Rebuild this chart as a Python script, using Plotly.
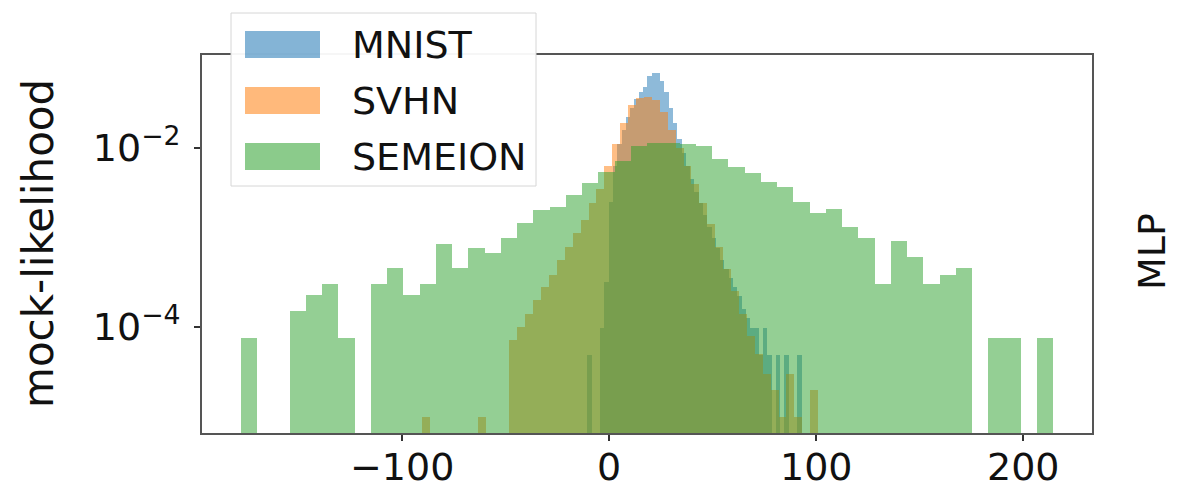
import numpy as np
import plotly.graph_objects as go

# ---- data (histogram densities) ----
mnist_edges = np.linspace(-10.5, 93.0, 51)
mnist_density = [4.9e-5, None, None, 9.8e-5, 3.2e-4, 2.5e-3, 6.3e-3, 1.12e-2, 1.58e-2, 2.2e-2,
                 2.8e-2, 3.5e-2, 4.2e-2, 4.8e-2, 6.3e-2, 6.9e-2, 6.9e-2, 5.6e-2, 4.2e-2, 2.8e-2,
                 1.9e-2, 1.26e-2, 8.9e-3, 6.3e-3, 4.5e-3, 3.2e-3, 2.4e-3, 1.8e-3, 1.3e-3, 1.0e-3,
                 7.6e-4, 5.6e-4, 4.5e-4, 3.5e-4, 2.8e-4, 2.2e-4, 1.6e-4, 1.26e-4, 9.8e-5, 9.8e-5,
                 4.9e-5, 9.8e-5, 4.9e-5, None, 4.9e-5, None, 4.9e-5, None, None, 4.9e-5]

svhn_edges = np.linspace(-90.2, 101.0, 51)
svhn_density = [1.0e-5, None, None, None, None, None, None, 1.0e-5, None, None,
                None, 7.2e-5, 1.0e-4, 1.4e-4, 2.0e-4, 2.8e-4, 3.8e-4, 5.6e-4, 7.9e-4, 1.12e-3,
                1.58e-3, 2.4e-3, 3.5e-3, 6.3e-3, 1.12e-2, 1.9e-2, 3.0e-2, 3.6e-2, 3.7e-2, 3.4e-2,
                2.5e-2, 1.58e-2, 1.0e-2, 6.3e-3, 4.0e-3, 2.4e-3, 1.4e-3, 7.9e-4, 4.5e-4, 2.5e-4,
                1.4e-4, 7.9e-5, 5.0e-5, 3.0e-5, 2.0e-5, 1.0e-5, 3.0e-5, 1.0e-5, None, 2.0e-5]

semeion_edges = np.linspace(-177.8, 214.7, 51)
semeion_density = [7.6e-5, None, None, 1.5e-4, 2.3e-4, 3.0e-4, 7.6e-5, None, 3.0e-4, 4.6e-4,
                   2.3e-4, 3.0e-4, 8.4e-4, 4.6e-4, 7.6e-4, 6.8e-4, 9.9e-4, 1.44e-3, 2.05e-3, 2.2e-3,
                   3.0e-3, 4.1e-3, 5.4e-3, 7.1e-3, 1.06e-2, 1.14e-2, 1.14e-2, 1.1e-2, 1.06e-2, 7.6e-3,
                   6.2e-3, 5.2e-3, 4.2e-3, 3.65e-3, 2.5e-3, 1.9e-3, 2.1e-3, 1.3e-3, 9.9e-4, 3.0e-4,
                   9.1e-4, 6.1e-4, 3.0e-4, 3.8e-4, 4.6e-4, None, 7.6e-5, 7.6e-5, None, 7.6e-5]

series_names = ["MNIST", "SVHN", "SEMEION"]
series_colors = ["#1f77b4", "#ff7f0e", "#2ca02c"]
legend_colors = ["rgba(31,119,180,0.55)", "rgba(255,127,14,0.55)", "rgba(44,160,44,0.55)"]

x_tickvals = [-100, 0, 100, 200]
x_ticktext = ["\u2212100", "0", "100", "200"]
y_tickvals = [1e-2, 1e-4]
y_ticktext = ["10<sup>\u22122</sup>", "10<sup>\u22124</sup>"]

FONT = "DejaVu Sans"
FS = 38

fig = go.Figure()
for name, color, edges, dens in zip(series_names, series_colors,
                                    [mnist_edges, svhn_edges, semeion_edges],
                                    [mnist_density, svhn_density, semeion_density]):
    centers = (edges[:-1] + edges[1:]) / 2
    widths = np.diff(edges)
    fig.add_trace(go.Bar(x=centers, y=dens, width=widths, name=name,
                         marker=dict(color=color, line=dict(width=0)),
                         opacity=0.5, showlegend=False))

W, H = 1184, 494
L, R, T, B = 202, 92, 55, 61
pw, ph = W - L - R, H - T - B

def px(xp):
    return (xp - L) / pw

def py(yp):
    return (H - B - yp) / ph

shapes = []
annotations = []
# legend box
shapes.append(dict(type="rect", xref="paper", yref="paper", x0=px(231), x1=px(536),
                   y0=py(186), y1=py(13), fillcolor="rgba(255,255,255,0.95)",
                   line=dict(color="#d6d6d6", width=1), layer="above"))
row_tops = [31, 87, 143]
for name, lc, rt in zip(series_names, legend_colors, row_tops):
    shapes.append(dict(type="rect", xref="paper", yref="paper", x0=px(245), x1=px(320),
                       y0=py(rt + 27), y1=py(rt), fillcolor=lc, line=dict(width=0),
                       layer="above"))
    annotations.append(dict(text=name, xref="paper", yref="paper", x=px(350), y=py(rt + 14),
                            xanchor="left", yanchor="middle", showarrow=False,
                            font=dict(family=FONT, size=FS, color="#111")))

# x tick labels (placed just below the axis ticks)
for tv, tt in zip(x_tickvals, x_ticktext):
    annotations.append(dict(text=tt, xref="x", yref="paper", x=tv, y=py(467),
                            xanchor="center", yanchor="middle", showarrow=False,
                            font=dict(family=FONT, size=FS, color="#111")))

annotations.append(dict(text="mock-likelihood", xref="paper", yref="paper", x=px(38), y=0.5,
                        textangle=-90, xanchor="center", yanchor="middle", showarrow=False,
                        font=dict(family=FONT, size=42, color="#111")))
annotations.append(dict(text="MLP", xref="paper", yref="paper", x=px(1152), y=py(252),
                        textangle=-90, xanchor="center", yanchor="middle", showarrow=False,
                        font=dict(family=FONT, size=FS, color="#111")))

fig.update_layout(
    width=W, height=H, margin=dict(l=L, r=R, t=T, b=B, autoexpand=False),
    barmode="overlay", bargap=0, plot_bgcolor="white", paper_bgcolor="white",
    shapes=shapes, annotations=annotations,
    font=dict(family=FONT, size=FS, color="#111"),
)
fig.update_xaxes(range=[-196.6, 233.3], tickvals=x_tickvals, showticklabels=False,
                 ticks="outside", ticklen=6, tickwidth=1.5, tickcolor="#333",
                 showline=True, linecolor="#555", linewidth=2, mirror=True,
                 showgrid=False, zeroline=False)
fig.update_yaxes(type="log", range=[-5.184, -0.961], tickvals=y_tickvals, ticktext=y_ticktext,
                 ticks="outside", ticklen=6, tickwidth=1.5, tickcolor="#333",
                 ticklabelstandoff=6,
                 showline=True, linecolor="#555", linewidth=2, mirror=True,
                 showgrid=False, zeroline=False, tickfont=dict(family=FONT, size=FS, color="#111"))

fig.write_html("out.html", config={"displayModeBar": False},
               post_script="document.body.style.margin='0';")
